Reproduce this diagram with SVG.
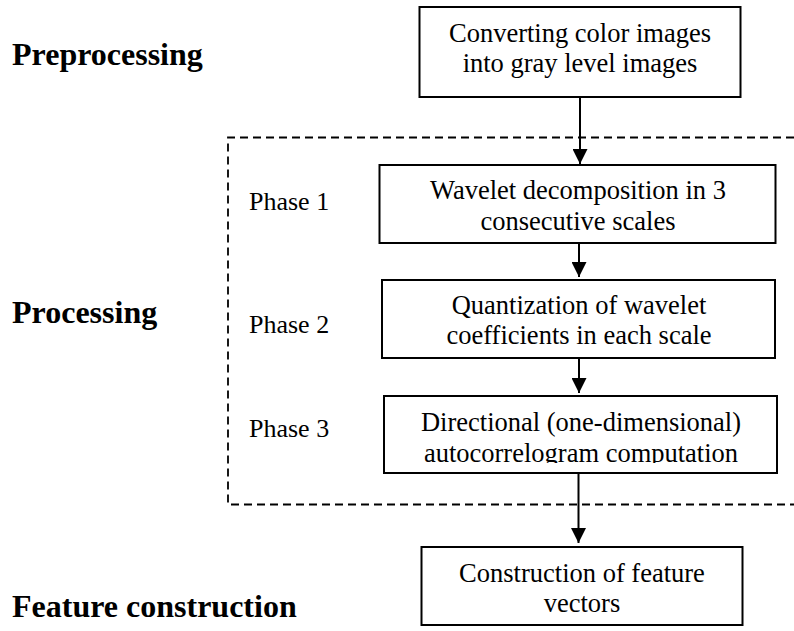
<svg xmlns="http://www.w3.org/2000/svg" width="794" height="631" viewBox="0 0 794 631">
<style>
.box{fill:#fff;stroke:#000;stroke-width:2}
.t{font-family:"Liberation Serif","Times New Roman",serif;font-size:26.5px;fill:#000;text-anchor:middle}
.p{font-family:"Liberation Serif","Times New Roman",serif;font-size:26px;fill:#000}
.h{font-family:"Liberation Serif","Times New Roman",serif;font-size:32px;font-weight:bold;fill:#000}
.c{stroke:#000;stroke-width:2;fill:none}
.d{stroke:#000;stroke-width:1.8;fill:none;stroke-dasharray:8 5}
</style>
<defs>
<marker id="arr" markerUnits="userSpaceOnUse" markerWidth="16" markerHeight="15" refX="15" refY="7.5" orient="auto">
<path d="M0,0 L15,7.5 L0,15 Z" fill="#000"/>
</marker>
<clipPath id="clip4"><rect x="384" y="396" width="394" height="67"/></clipPath>
</defs>
<rect width="794" height="631" fill="#fff"/>
<g id="labels">
<text class="h" x="12" y="65">Preprocessing</text>
<text class="h" x="12" y="323">Processing</text>
<text class="h" x="12" y="617">Feature construction</text>
<text class="p" x="249" y="210">Phase 1</text>
<text class="p" x="249" y="333">Phase 2</text>
<text class="p" x="249" y="437">Phase 3</text>
</g>
<g id="processing-region">
<path class="d" d="M794,137.5 H228 V504.5 H794"/>
</g>
<g id="connectors">
<line class="c" x1="580" y1="97" x2="580" y2="164" marker-end="url(#arr)"/>
<line class="c" x1="579" y1="243" x2="579" y2="277" marker-end="url(#arr)"/>
<line class="c" x1="579" y1="358" x2="579" y2="393" marker-end="url(#arr)"/>
<line class="c" x1="578.5" y1="473" x2="578.5" y2="543" marker-end="url(#arr)"/>
</g>
<g id="node1">
<rect class="box" x="419.5" y="7" width="321" height="90"/>
<text class="t" x="580" y="42">Converting color images</text>
<text class="t" x="580" y="72">into gray level images</text>
</g>
<g id="node2">
<rect class="box" x="379.5" y="165" width="396" height="78"/>
<text class="t" x="578" y="199">Wavelet decomposition in 3</text>
<text class="t" x="578" y="230">consecutive scales</text>
</g>
<g id="node3">
<rect class="box" x="382" y="280" width="393" height="78"/>
<text class="t" x="579" y="314">Quantization of wavelet</text>
<text class="t" x="579" y="344">coefficients in each scale</text>
</g>
<g id="node4">
<rect class="box" x="384" y="396" width="393" height="77"/>
<g clip-path="url(#clip4)">
<text class="t" x="581" y="431">Directional (one-dimensional)</text>
<text class="t" x="581" y="462">autocorrelogram computation</text>
</g>
</g>
<g id="node5">
<rect class="box" x="421.5" y="547" width="321" height="78"/>
<text class="t" x="582" y="582">Construction of feature</text>
<text class="t" x="582" y="612">vectors</text>
</g>
</svg>
